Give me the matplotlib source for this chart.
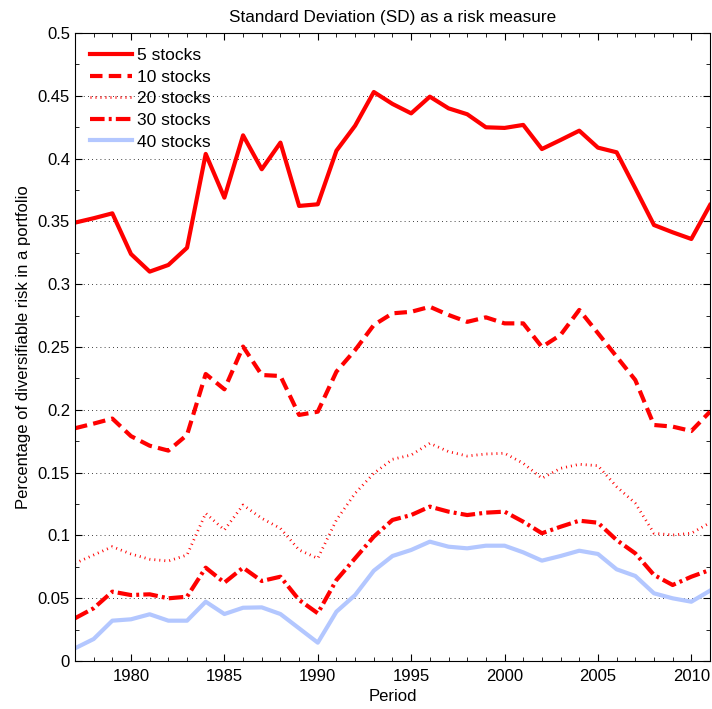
import matplotlib
matplotlib.use("Agg")
import matplotlib.pyplot as plt
from matplotlib.ticker import MultipleLocator, FuncFormatter

plt.rcParams['font.family'] = ['Liberation Sans', 'DejaVu Sans']

years = list(range(1977, 2012))

sd5 = [0.349, 0.3525, 0.3564, 0.324, 0.310, 0.3153, 0.329, 0.4037, 0.3689, 0.4185,
       0.3915, 0.4127, 0.3623, 0.3636, 0.4063, 0.4262, 0.4530, 0.4435, 0.436, 0.4493,
       0.440, 0.4353, 0.4249, 0.4244, 0.4268, 0.4076, 0.4148, 0.4222, 0.4087, 0.405,
       0.3763, 0.3471, 0.3413, 0.336, 0.363]
sd10 = [0.1853, 0.189, 0.193, 0.179, 0.1714, 0.1675, 0.18, 0.2285, 0.2163, 0.2503,
        0.2277, 0.2269, 0.1959, 0.1985, 0.2304, 0.2476, 0.2675, 0.2768, 0.278, 0.282,
        0.2755, 0.270, 0.2736, 0.2688, 0.2688, 0.250, 0.2596, 0.2795, 0.261, 0.2423,
        0.2237, 0.1879, 0.1866, 0.1831, 0.1985]
sd20 = [0.0778, 0.0844, 0.091, 0.0852, 0.081, 0.0796, 0.0844, 0.1176, 0.1043, 0.1242,
        0.1136, 0.1056, 0.0884, 0.0817, 0.1123, 0.1335, 0.1494, 0.1606, 0.164, 0.1733,
        0.1667, 0.1632, 0.1648, 0.1654, 0.1574, 0.1455, 0.1534, 0.1566, 0.1555, 0.1388,
        0.1256, 0.1017, 0.1003, 0.1017, 0.1101]
sd30 = [0.034, 0.042, 0.0552, 0.0525, 0.0531, 0.0499, 0.0512, 0.0743, 0.0624, 0.0743,
        0.0637, 0.0671, 0.0486, 0.038, 0.0645, 0.0818, 0.099, 0.1123, 0.1162, 0.1229,
        0.1189, 0.1162, 0.1181, 0.1189, 0.1109, 0.1017, 0.1069, 0.1117, 0.1101, 0.0963,
        0.0857, 0.0685, 0.0605, 0.0671, 0.0725]
sd40 = [0.0101, 0.0175, 0.0321, 0.0332, 0.0372, 0.0321, 0.0321, 0.0472, 0.0374, 0.0424,
        0.0427, 0.0374, 0.026, 0.0146, 0.0393, 0.0525, 0.0719, 0.0836, 0.0884, 0.095,
        0.091, 0.0897, 0.0918, 0.0918, 0.0865, 0.0799, 0.0836, 0.0878, 0.0852, 0.073,
        0.0677, 0.0539, 0.0499, 0.0472, 0.056]

fig = plt.figure(figsize=(7.12, 7.09), dpi=100)
ax = fig.add_axes([0.1053, 0.0677, 0.8919, 0.8858])

ax.plot(years, sd5, color='red', lw=3, ls='-', label='5 stocks')
ax.plot(years, sd10, color='red', lw=3, ls=(0, (3, 1.5)), label='10 stocks')
ax.plot(years, sd20, color='red', lw=2, ls=(0, (0.35, 1.45)), label='20 stocks')
ax.plot(years, sd30, color='red', lw=3, ls=(0, (3.5, 1, 0.7, 1)), label='30 stocks')
ax.plot(years, sd40, color=(0.7, 0.78, 1.0), lw=3, ls='-', label='40 stocks')

ax.set_xlim(1977, 2011)
ax.set_ylim(0, 0.5)
ax.xaxis.set_major_locator(MultipleLocator(5))
ax.xaxis.set_minor_locator(MultipleLocator(1))
ax.yaxis.set_major_locator(MultipleLocator(0.05))
ax.yaxis.set_minor_locator(MultipleLocator(0.025))
ax.yaxis.set_major_formatter(FuncFormatter(lambda v, p: '%g' % round(v, 3)))
ax.tick_params(which='both', direction='in', top=True, right=True, labelsize=12)
ax.tick_params(axis='x', which='major', pad=5.5)
ax.tick_params(which='major', length=5)
ax.tick_params(which='minor', length=3)
ax.grid(axis='y', which='major', ls=(0, (1, 4)), color='black', lw=0.6)

ax.set_title('Standard Deviation (SD) as a risk measure', fontsize=12.3, pad=8)
ax.set_xlabel('Period', fontsize=12, labelpad=4)
ax.set_ylabel('Percentage of diversifiable risk in a portfolio', fontsize=12, labelpad=5)

ax.legend(loc='upper left', bbox_to_anchor=(0.012, 0.987), frameon=False, fontsize=12.5,
          handlelength=2.45, handletextpad=0.3, labelspacing=0.37, borderaxespad=0.0)

fig.savefig('out.png', dpi=100)
